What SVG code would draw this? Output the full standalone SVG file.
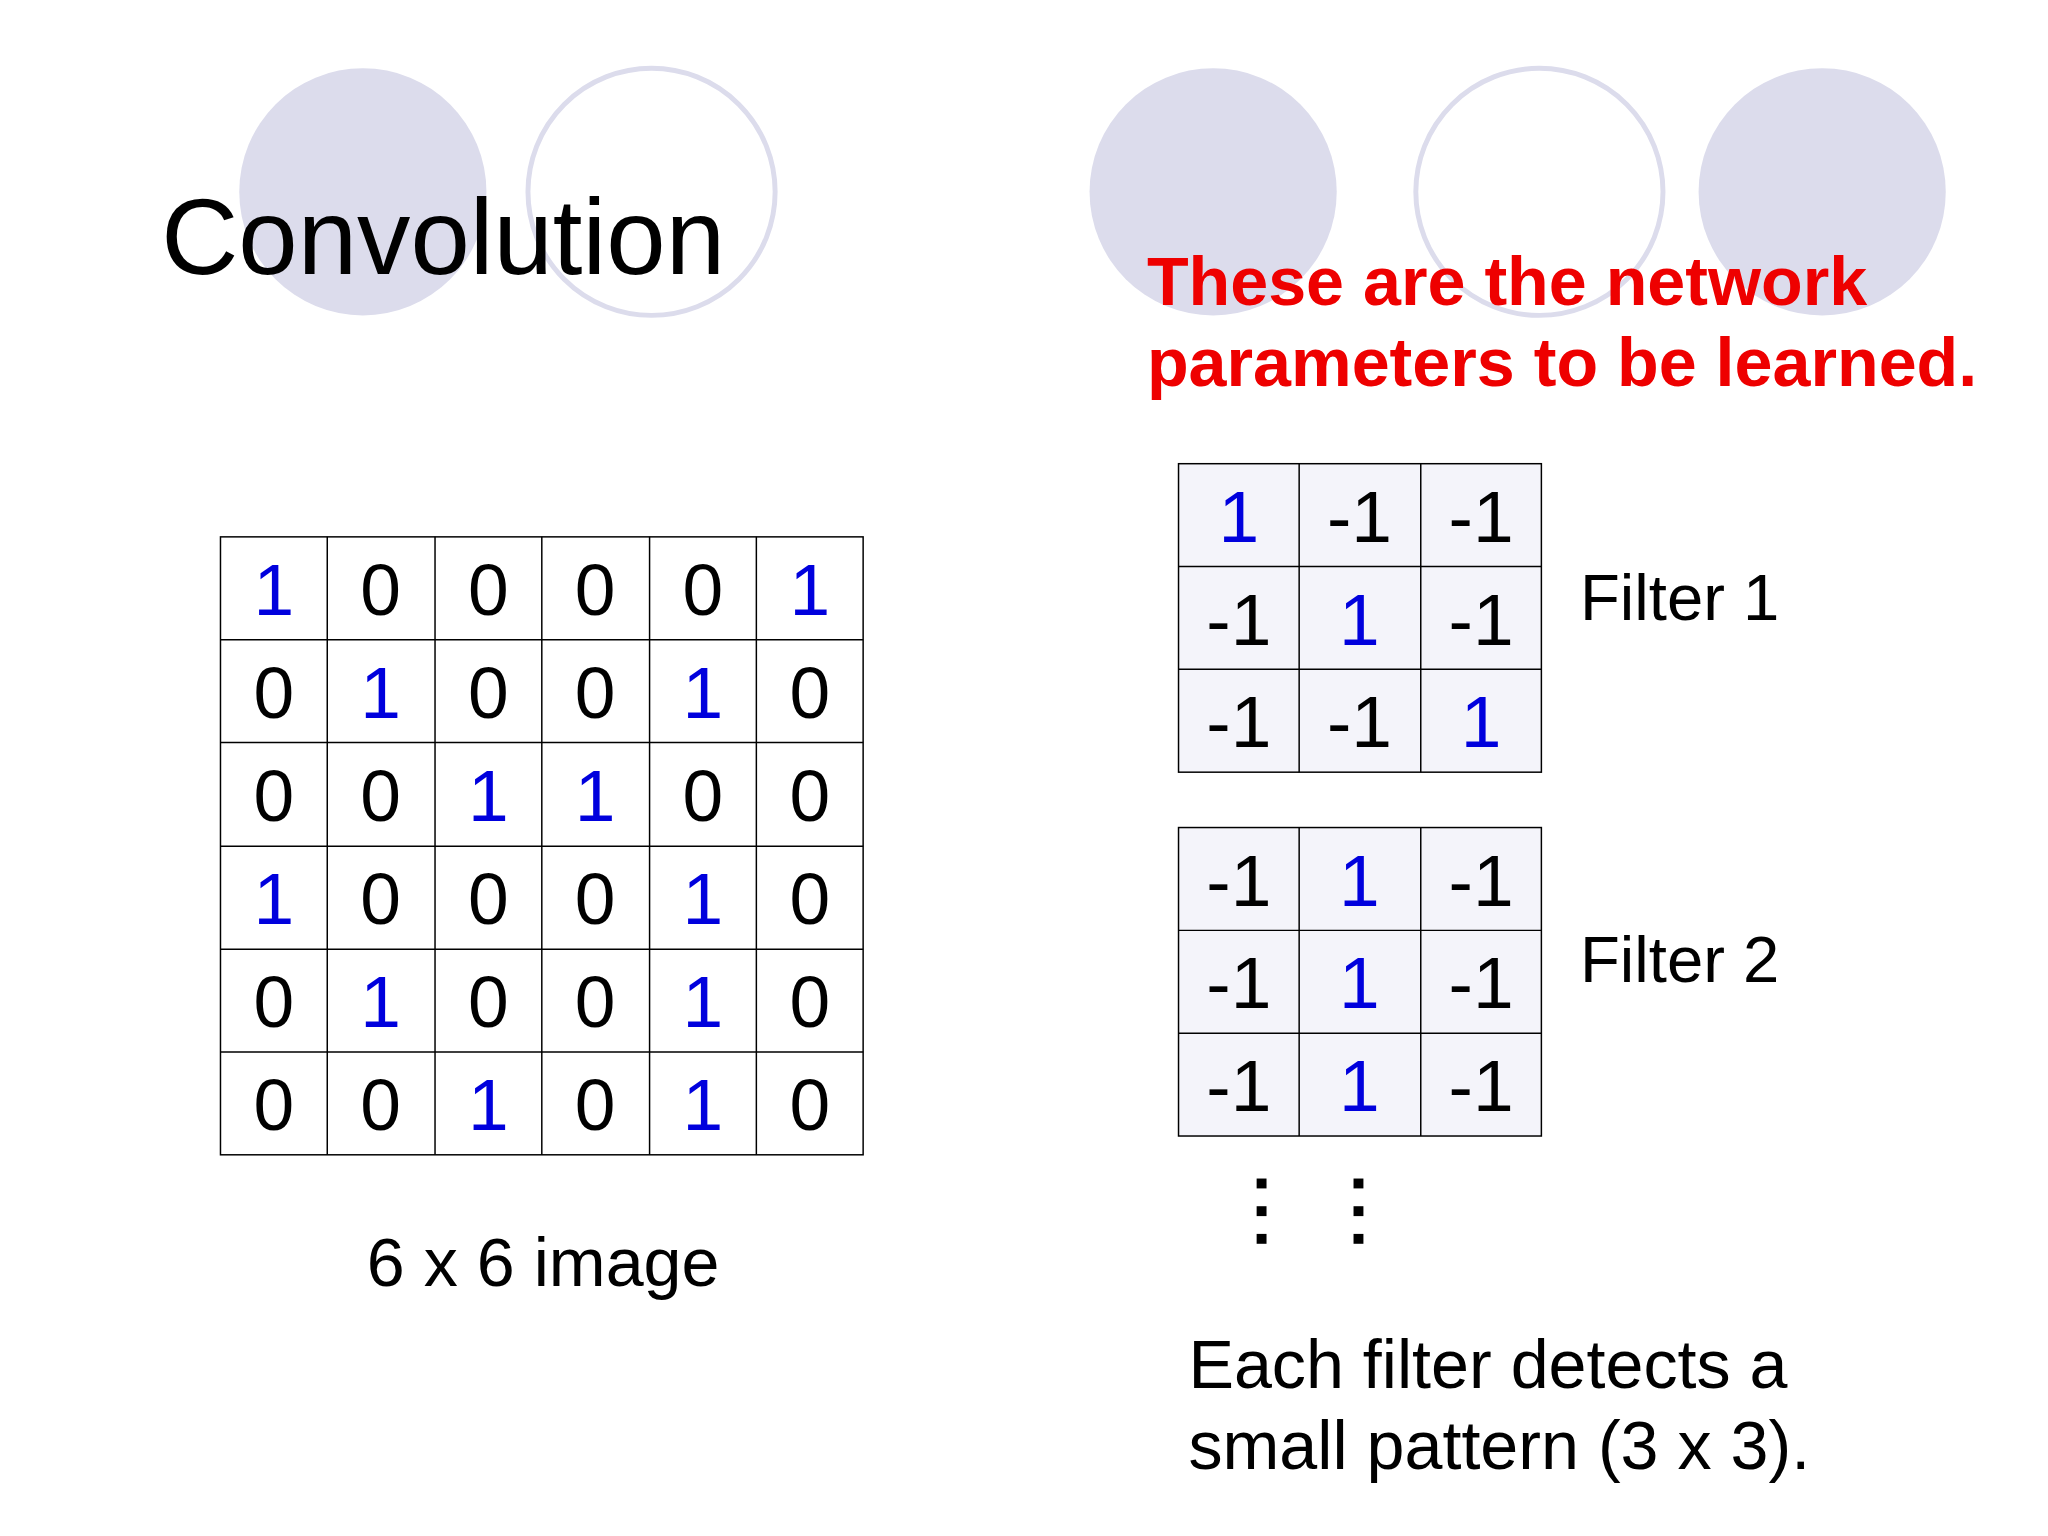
<svg xmlns="http://www.w3.org/2000/svg" width="2048" height="1536" viewBox="0 0 2048 1536">
<style>
text{font-family:"Liberation Sans",Arial,sans-serif}
.d{font-size:74px;text-anchor:middle}
.b{fill:#0000dd}
.k{fill:#000}
.cf{fill:#dcdcec}
.co{fill:none;stroke:#dcdcec;stroke-width:5}
.g{stroke:#000;stroke-width:1.5}
.lbl{font-size:66px}
.lbl2{font-size:69px}
</style>
<rect width="2048" height="1536" fill="#fff"/>
<g transform="scale(0.9887)">
<g id="decor">
<circle class="cf" cx="367" cy="194" r="125"/>
<circle class="co" cx="659" cy="194" r="125"/>
<circle class="cf" cx="1227" cy="194" r="125"/>
<circle class="co" cx="1557" cy="194" r="125"/>
<circle class="cf" cx="1843" cy="194" r="125"/>
</g>
<g id="title"><text x="163" y="277" font-size="108">Convolution</text></g>
<g id="note"><text x="1160" y="308" font-size="69" font-weight="bold" fill="#ee0000">These are the network</text><text x="1160" y="390" font-size="69" font-weight="bold" fill="#ee0000">parameters to be learned.</text></g>
<g id="image">
<rect x="223" y="543" width="650" height="625" fill="#fff" class="g"/>
<path class="g" d="M331 543V1168M440 543V1168M548 543V1168M657 543V1168M765 543V1168M223 647H873M223 751H873M223 856H873M223 960H873M223 1064H873"/>
<g class="d">
<text x="277" y="622" class="b">1</text><text x="385" y="622">0</text><text x="494" y="622">0</text><text x="602" y="622">0</text><text x="711" y="622">0</text><text x="819" y="622" class="b">1</text>
<text x="277" y="726">0</text><text x="385" y="726" class="b">1</text><text x="494" y="726">0</text><text x="602" y="726">0</text><text x="711" y="726" class="b">1</text><text x="819" y="726">0</text>
<text x="277" y="830">0</text><text x="385" y="830">0</text><text x="494" y="830" class="b">1</text><text x="602" y="830" class="b">1</text><text x="711" y="830">0</text><text x="819" y="830">0</text>
<text x="277" y="935" class="b">1</text><text x="385" y="935">0</text><text x="494" y="935">0</text><text x="602" y="935">0</text><text x="711" y="935" class="b">1</text><text x="819" y="935">0</text>
<text x="277" y="1039">0</text><text x="385" y="1039" class="b">1</text><text x="494" y="1039">0</text><text x="602" y="1039">0</text><text x="711" y="1039" class="b">1</text><text x="819" y="1039">0</text>
<text x="277" y="1143">0</text><text x="385" y="1143">0</text><text x="494" y="1143" class="b">1</text><text x="602" y="1143">0</text><text x="711" y="1143" class="b">1</text><text x="819" y="1143">0</text>
</g>
<text x="371" y="1301" class="lbl2">6 x 6 image</text>
</g>
<g id="filter1">
<rect x="1192" y="469" width="367" height="312" fill="#f4f4fa" class="g"/>
<path class="g" d="M1314 469V781M1437 469V781M1192 573H1559M1192 677H1559"/>
<g class="d">
<text x="1253" y="548" class="b">1</text><text x="1375" y="548">-1</text><text x="1498" y="548">-1</text>
<text x="1253" y="652">-1</text><text x="1375" y="652" class="b">1</text><text x="1498" y="652">-1</text>
<text x="1253" y="756">-1</text><text x="1375" y="756">-1</text><text x="1498" y="756" class="b">1</text>
</g>
<text x="1598" y="627" class="lbl">Filter 1</text>
</g>
<g id="filter2">
<rect x="1192" y="837" width="367" height="312" fill="#f4f4fa" class="g"/>
<path class="g" d="M1314 837V1149M1437 837V1149M1192 941H1559M1192 1045H1559"/>
<g class="d">
<text x="1253" y="916">-1</text><text x="1375" y="916" class="b">1</text><text x="1498" y="916">-1</text>
<text x="1253" y="1020">-1</text><text x="1375" y="1020" class="b">1</text><text x="1498" y="1020">-1</text>
<text x="1253" y="1124">-1</text><text x="1375" y="1124" class="b">1</text><text x="1498" y="1124">-1</text>
</g>
<text x="1598" y="993" class="lbl">Filter 2</text>
</g>
<g id="dots" fill="#000">
<rect x="1271" y="1192" width="10" height="10"/><rect x="1271" y="1220" width="10" height="10"/><rect x="1271" y="1248" width="10" height="10"/>
<rect x="1369" y="1192" width="10" height="10"/><rect x="1369" y="1220" width="10" height="10"/><rect x="1369" y="1248" width="10" height="10"/>
</g>
<g id="caption"><text x="1202" y="1404" class="lbl2">Each filter detects a</text><text x="1202" y="1486" class="lbl2">small pattern (3 x 3).</text></g>
</g>
</svg>
